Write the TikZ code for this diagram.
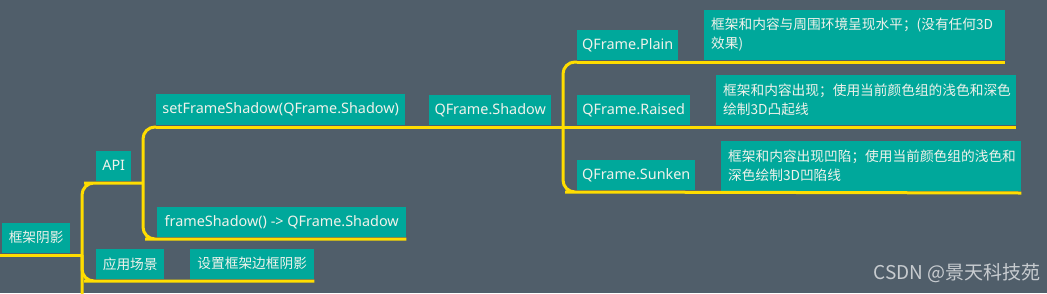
\documentclass[tikz,border=0pt]{standalone}
\usepackage{fontspec}
\newfontfamily\cjk{Noto Sans CJK SC}
\newfontfamily\lat{Noto Sans}
\definecolor{bg}{RGB}{80,94,106}
\definecolor{teal0}{RGB}{0,168,155}
\definecolor{yel}{RGB}{255,221,0}
\definecolor{txt}{RGB}{240,242,235}
\definecolor{wm}{RGB}{200,204,208}
\tikzset{
  box/.style={fill=teal0, text=txt, font=\cjk\fontsize{13.7}{19}\selectfont,
    inner xsep=0pt, inner ysep=0pt, anchor=south west, align=center},
  lbox/.style={box, font=\lat\fontsize{14.4}{19}\selectfont},
  desc/.style={box, align=left, inner xsep=7pt, minimum height=50pt},
  ln/.style={draw=yel, line width=3pt, rounded corners=12pt},
}
\begin{document}
\begin{tikzpicture}[x=1pt,y=-1pt]
\useasboundingbox (0,0) rectangle (1047,293);
\fill[bg] (0,0) rectangle (1047,293);
% nodes
\node[box, minimum width=68pt, minimum height=30pt] (root) at (2,253) {框架阴影};
\node[lbox, minimum width=35pt, minimum height=30pt] (api) at (96,181) {API};
\node[box, minimum width=68pt, minimum height=30pt] (scene) at (96,279) {应用场景};
\node[box, minimum width=124pt, minimum height=30pt] (setdesc) at (190,279) {设置框架边框阴影};
\node[lbox, minimum width=249pt, minimum height=31pt] (setfs) at (156,125) {setFrameShadow(QFrame.Shadow)};
\node[lbox, minimum width=249pt, minimum height=30pt] (getfs) at (157,237) {frameShadow() -> QFrame.Shadow};
\node[lbox, minimum width=122pt, minimum height=30pt] (shadow) at (429,125) {QFrame.Shadow};
\node[lbox, minimum width=101pt, minimum height=30pt] (plain) at (577,60) {QFrame.Plain};
\node[lbox, minimum width=113pt, minimum height=30pt] (raised) at (577,125) {QFrame.Raised};
\node[lbox, minimum width=118pt, minimum height=30pt] (sunken) at (577,190) {QFrame.Sunken};
\node[desc, text width=287pt] (plaind) at (704,60) {框架和内容与周围环境呈现水平；(没有任何3D\\效果)};
\node[desc, text width=286pt] (raisedd) at (716,125) {框架和内容出现；使用当前颜色组的浅色和深色\\绘制3D凸起线};
\node[desc, text width=286pt] (sunkend) at (721,191) {框架和内容出现凹陷；使用当前颜色组的浅色和\\深色绘制3D凹陷线};
\node[anchor=east, text=wm, font=\cjk\fontsize{19}{20}\selectfont, inner sep=0pt] (wmark) at (1041,273) {CSDN @景天科技苑};
% junctions
\coordinate (in0) at (0,255);
\coordinate (j0) at (82,255);
\coordinate (bot) at (82,294);
\coordinate (j1) at (143,183);
\coordinate (j2) at (563,127);
% connectors
\draw[ln] (in0) -- (j0);
\draw[ln] (bot) |- ([yshift=-2pt]api.south west) -- (j1);
\draw[ln] (j0) |- ([yshift=-2pt]scene.south west) -- ([yshift=-2pt]setdesc.south east);
\draw[ln] ([yshift=-2pt]setfs.south west) -| (j1) |- ([yshift=-2pt]getfs.south west) -- ([yshift=-2pt]getfs.south east);
\draw[ln] ([yshift=-2pt]setfs.south west) -- (j2);
\draw[ln] ([yshift=-2pt]plain.south west) -| (j2) |- ([yshift=-2pt]sunken.south west) -- ([yshift=-2pt]sunkend.south east);
\draw[ln] ([yshift=-2pt]plain.south west) -- ([yshift=-2pt]plaind.south east);
\draw[ln] (j2) -- ([yshift=-2pt]raisedd.south east);
\end{tikzpicture}
\end{document}
